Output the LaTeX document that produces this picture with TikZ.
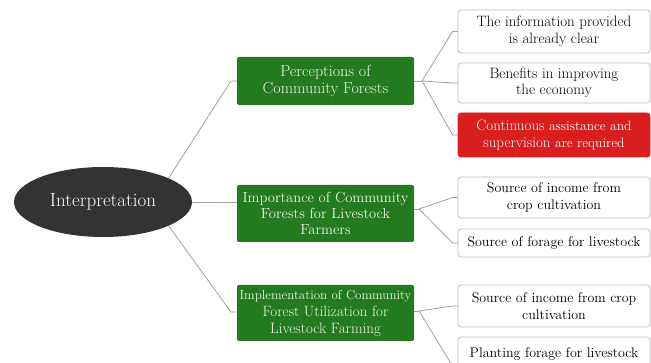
\documentclass[tikz,border=0pt]{standalone}
\usetikzlibrary{shapes.geometric,calc}
\definecolor{gbox}{HTML}{247A1E}
\definecolor{rbox}{HTML}{D91E1E}
\definecolor{rootc}{HTML}{333333}
\definecolor{linec}{HTML}{A0A0A0}
\definecolor{bordc}{HTML}{BDBDBD}
\definecolor{gtext}{HTML}{F4F4E8}
\begin{document}
\begin{tikzpicture}[x=1pt,y=-1pt,
  rootnode/.style={ellipse,fill=rootc,text=white,minimum width=178pt,minimum height=70pt,inner sep=0pt,font=\fontsize{19}{21}\selectfont},
  greenbox/.style={rectangle,rounded corners=2pt,fill=gbox,text=gtext,minimum width=177pt,align=center,inner sep=0pt,font=\fontsize{15}{17}\selectfont},
  leafbox/.style={rectangle,rounded corners=3pt,draw=bordc,fill=white,line width=0.8pt,minimum width=192pt,align=center,inner sep=0pt,font=\fontsize{14}{16.5}\selectfont},
  redbox/.style={leafbox,draw=rbox,fill=rbox,text=white},
  conn/.style={draw=linec,line width=0.8pt}]
\useasboundingbox (0,0) rectangle (651,363);
\fill[white] (0,0) rectangle (651,363);

\node[rootnode] (root) at (103,202) {Interpretation};

\node[greenbox,minimum height=48pt,font=\fontsize{16}{17}\selectfont] (g1) at (325.5,81) {Perceptions of\\Community Forests};
\node[greenbox,minimum height=57pt,font=\fontsize{14.6}{16}\selectfont] (g2) at (325.5,213.5) {Importance of Community\\Forests for Livestock\\Farmers};
\node[greenbox,minimum height=56pt] (g3) at (325.5,313) {{\fontsize{13}{16}\selectfont Implementation of Community}\\Forest Utilization for\\Livestock Farming};

\node[leafbox,minimum height=43pt,font=\fontsize{15}{16.5}\selectfont] (a) at (554,31.5) {The information provided\\is already clear};
\node[leafbox,minimum height=40pt,font=\fontsize{15}{16.5}\selectfont] (b) at (554,83) {Benefits in improving\\the economy};
\node[redbox,minimum height=44pt,font=\fontsize{15}{16.5}\selectfont] (c) at (554,135) {Continuous {\fontsize{13.5}{16}\selectfont assistance and}\\supervision {\fontsize{13.5}{16}\selectfont are required}};
\node[leafbox,minimum height=41pt] (d) at (554,197.5) {Source of income from\\crop cultivation};
\node[leafbox,minimum height=28pt] (e) at (554,243) {Source of forage for livestock};
\node[leafbox,minimum height=42pt] (f) at (554,306) {Source of income from crop\\cultivation};
\node[leafbox,minimum height=34pt] (g) at (554,354) {Planting forage for livestock};

% root to green boxes
\coordinate (r1) at (231,81);
\coordinate (r3) at (231,312);
\draw[conn] (root.20) -- (r1) -- (g1.west);
\draw[conn] (root.east) -- (root.east -| g2.west);
\draw[conn] (root.-20) -- (r3) -- (g3.west |- r3);

% green to leaves
\coordinate (f1) at (422,81);
\draw[conn] (g1.east) -- (f1);
\draw[conn] (f1) -- ([xshift=-5pt]a.west) -- (a.west);
\draw[conn] (f1) -- ([xshift=-5pt]b.west) -- (b.west);
\draw[conn] (f1) -- ([xshift=-5pt]c.west) -- (c.west);

\coordinate (f2) at (419,209);
\draw[conn] (g2.east |- f2) -- (f2);
\draw[conn] (f2) -- ([xshift=-5pt]d.west) -- (d.west);
\draw[conn] (f2) -- ([xshift=-5pt]e.west) -- (e.west);

\coordinate (f3) at (419,311);
\draw[conn] (g3.east |- f3) -- (f3);
\draw[conn] (f3) -- ([xshift=-5pt]f.west) -- (f.west);
\draw[conn] (f3) -- ([xshift=-5pt,yshift=-12pt]g.west) -- ([yshift=-12pt]g.west);
\end{tikzpicture}
\end{document}
